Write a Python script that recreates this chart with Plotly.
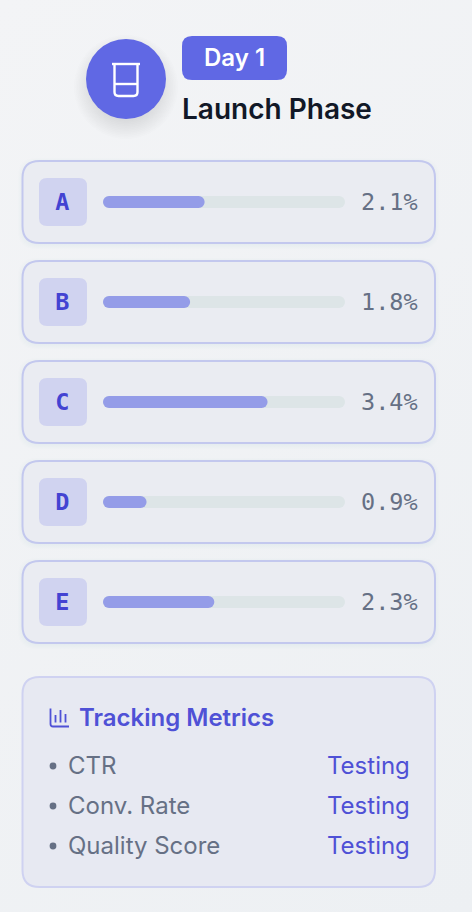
import plotly.graph_objects as go

# Data
variants = ["A", "B", "C", "D", "E"]
rates = [2.1, 1.8, 3.4, 0.9, 2.3]
rate_labels = ["2.1%", "1.8%", "3.4%", "0.9%", "2.3%"]
axis_max = [5, 5, 5, 5, 5]
bar_start = [0, 0, 0, 0, 0]
metrics = ["CTR", "Conv. Rate", "Quality Score"]
metric_status = ["Testing", "Testing", "Testing"]
badge_text = "Day 1"
title_text = "Launch Phase"
panel_title = "Tracking Metrics"

W, H = 472, 912
INDIGO = "#6068e4"
INK = "#4f51d6"
SLATE = "#667085"
TRACK = "#dde5e7"
FILL = "#949ce8"


def X(x):
    return x / W


def Y(y):
    return 1 - y / H


def rr_path(x0, y0, x1, y1, r):
    pts = [
        f"M{X(x0 + r)},{Y(y0)}", f"L{X(x1 - r)},{Y(y0)}", f"Q{X(x1)},{Y(y0)} {X(x1)},{Y(y0 + r)}",
        f"L{X(x1)},{Y(y1 - r)}", f"Q{X(x1)},{Y(y1)} {X(x1 - r)},{Y(y1)}",
        f"L{X(x0 + r)},{Y(y1)}", f"Q{X(x0)},{Y(y1)} {X(x0)},{Y(y1 - r)}",
        f"L{X(x0)},{Y(y0 + r)}", f"Q{X(x0)},{Y(y0)} {X(x0 + r)},{Y(y0)}", "Z",
    ]
    return " ".join(pts)


def rect(x0, y0, x1, y1, r, fill="rgba(0,0,0,0)", line=None, lw=0):
    return dict(type="path", path=rr_path(x0, y0, x1, y1, r), xref="paper", yref="paper",
                fillcolor=fill, line=dict(color=line or "rgba(0,0,0,0)", width=lw), layer="below")


def circle(cx, cy, r, fill):
    return dict(type="circle", xref="paper", yref="paper", x0=X(cx - r), x1=X(cx + r), y0=Y(cy + r), y1=Y(cy - r),
                fillcolor=fill, line=dict(width=0), layer="below")


def stroke(d, color, width):
    out = []
    for tok in d:
        if tok[0] in "ML":
            out.append(f"{tok[0]}{X(tok[1])},{Y(tok[2])}")
        else:
            out.append(f"Q{X(tok[1])},{Y(tok[2])} {X(tok[3])},{Y(tok[4])}")
    return dict(type="path", path=" ".join(out), xref="paper", yref="paper",
                line=dict(color=color, width=width), fillcolor="rgba(0,0,0,0)", layer="above")


shapes = []
# header circle shadow + circle
for i in range(12):
    shapes.append(circle(126, 87, 52 - i * 1.6, "rgba(70,75,110,0.012)"))
shapes.append(circle(126, 79, 40, INDIGO))
# beaker icon
shapes.append(stroke([("M", 112, 64), ("L", 140, 64)], "white", 2.4))
shapes.append(stroke([("M", 114.5, 64), ("L", 114.5, 92), ("Q", 114.5, 96, 118.5, 96), ("L", 133.5, 96),
                      ("Q", 137.5, 96, 137.5, 92), ("L", 137.5, 64)], "white", 2.4))
shapes.append(stroke([("M", 114.5, 84), ("L", 137.5, 84)], "white", 2.4))
# badge
shapes.append(rect(182, 36, 287, 80, 10, INDIGO))
# cards
for i in range(len(variants)):
    top = 161 + 100 * i
    for k in range(5):
        shapes.append(rect(22 - k, top + 1 - k, 435 + k, top + 84 + k, 18, "rgba(60,65,110,0.006)"))
    shapes.append(rect(22.5, top, 435, top + 82, 17, "#eaecf2", "#c3c8ee", 2))
    shapes.append(rect(39, top + 17, 87, top + 65, 8, "#d0d3f0"))
# metrics panel
shapes.append(rect(22.5, 677, 435, 887, 17, "#e7e9f2", "#cfd2f1", 2))
# chart icon
shapes.append(stroke([("M", 50.5, 708.5), ("L", 50.5, 724), ("Q", 50.5, 726.5, 53, 726.5), ("L", 69, 726.5)], INK, 1.8))
shapes.append(stroke([("M", 55.5, 715), ("L", 55.5, 722.5)], INK, 1.8))
shapes.append(stroke([("M", 60.5, 710), ("L", 60.5, 722.5)], INK, 1.8))
shapes.append(stroke([("M", 65.5, 714), ("L", 65.5, 722.5)], INK, 1.8))

annotations = [
    dict(text=badge_text, x=X(234.5), y=Y(57), font=dict(family="Inter", size=24, color="white", weight=600)),
    dict(text=title_text, x=X(181), y=Y(109), xanchor="left",
         font=dict(family="Inter", size=28, color="#111827", weight=600)),
    dict(text=panel_title, x=X(78), y=Y(717), xanchor="left",
         font=dict(family="Inter", size=24, color=INK, weight=600)),
]
annotations = [dict(a, xref="paper", yref="paper", yanchor="middle", showarrow=False, borderpad=0) for a in annotations]

for i, lab in enumerate(rate_labels):
    annotations.append(dict(text=lab, xref="x", yref="y", x=axis_max[i], y=variants[i], xanchor="left", yanchor="middle",
                            xshift=14, showarrow=False, font=dict(family="DejaVu Sans Mono", size=23.5, color=SLATE)))

for i, (m, s) in enumerate(zip(metrics, metric_status)):
    cy = 766 + 40 * i
    shapes.append(circle(53, cy, 3.4, SLATE))
    annotations.append(dict(text=m, xref="paper", yref="paper", x=X(66), y=Y(cy - 1), xanchor="left", yanchor="middle",
                            showarrow=False, font=dict(family="Inter", size=24, color=SLATE)))
    annotations.append(dict(text=s, xref="paper", yref="paper", x=X(412), y=Y(cy - 1), xanchor="right", yanchor="middle",
                            showarrow=False, font=dict(family="Inter", size=24, color=INK)))

fig = go.Figure()
fig.add_trace(go.Bar(y=variants, x=axis_max, base=bar_start, orientation="h", width=0.12, opacity=1,
                     marker=dict(color=TRACK, line_width=0, cornerradius=6), hoverinfo="skip", name="Scale"))
fig.add_trace(go.Bar(y=variants, x=rates, base=bar_start, orientation="h", width=0.12, opacity=1,
                     marker=dict(color=FILL, line_width=0, cornerradius=6), name="Conversion"))

fig.update_layout(
    width=W, height=H, margin=dict(l=0, r=0, t=0, b=0), barmode="overlay", showlegend=False,
    paper_bgcolor="rgba(0,0,0,0)", plot_bgcolor="rgba(0,0,0,0)", shapes=shapes, annotations=annotations,
    xaxis=dict(domain=[X(103), X(345)], range=[0, 5], visible=False, fixedrange=True),
    yaxis=dict(domain=[Y(652), Y(152)], type="category", categoryorder="array", categoryarray=variants,
               autorange="reversed", showgrid=False, zeroline=False, showline=False, ticks="outside", ticklen=28,
               tickcolor="rgba(0,0,0,0)", fixedrange=True,
               tickfont=dict(family="DejaVu Sans Mono", size=23.5, color="#4343d2", weight=600)),
)
post = ("document.documentElement.style.background='linear-gradient(135deg,#f3f4f6,#edf0f3)';"
        "document.body.style.margin='0';document.body.style.background='transparent';"
        "document.body.style.overflow='hidden';")
fig.write_html("out.html", config={"displayModeBar": False}, post_script=post)
